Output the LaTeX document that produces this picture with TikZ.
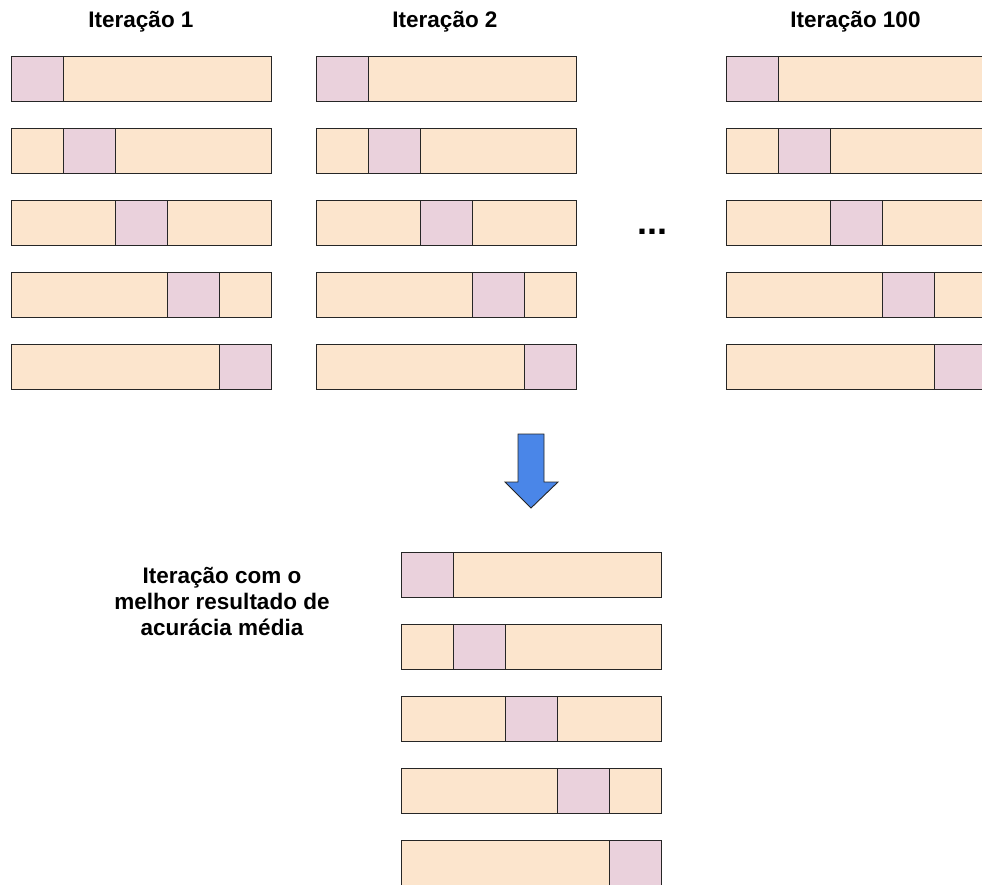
\documentclass[tikz,border=0pt]{standalone}
\usepackage{fontspec}
\setmainfont{Liberation Sans}
\usetikzlibrary{positioning}
\definecolor{trainbg}{HTML}{FCE5CD}
\definecolor{testbg}{HTML}{EAD1DC}
\definecolor{arrowblue}{HTML}{4A86E8}
\tikzset{%
	bar/.style   = {draw=black!85, line width=1.1pt, fill=trainbg, rectangle, anchor=north west, minimum width=260pt, minimum height=45pt, inner sep=0pt}, % Whole data
	fold/.style  = {draw=black!85, line width=1.1pt, fill=testbg, rectangle, anchor=north west, minimum width=52pt, minimum height=45pt, inner sep=0pt}, % Test fold
	title/.style = {font=\fontsize{22.5}{26}\selectfont\bfseries, inner sep=0pt}, % Labels
}

\begin{document}
\begin{tikzpicture}[x=1pt,y=-1pt]
	\useasboundingbox (0,0) rectangle (982,884);
	\clip (0,0) rectangle (982,884);
	\node [title, anchor=base] (it1) at (141,27) {Iteração 1};
	\node [title, anchor=base] (it2) at (445,27) {Iteração 2};
	\node [title, anchor=base] (it100) at (855.5,27) {Iteração 100};
	\node [font=\fontsize{36}{36}\selectfont\bfseries] (dots) at (652,232) {...};
	\node [title, align=center] (bestlabel) at (222,601) {Iteração com o\\melhor resultado de\\acurácia média};
	
	% column / first row
	\foreach \name/\x/\y in {ia/11/56, ib/316/56, ic/726/56, best/401/552} {
		\foreach \k in {0,...,4} {
			\node [bar] (\name-\k) at (\x,\y+\k*72) {};
			\node [fold] (\name-f\k) at ([xshift=\k*52pt]\name-\k.north west) {};
		}
	}
	
	\draw [fill=arrowblue, draw=black!85, line width=0.9pt] (518,434) -- (544,434) -- (544,482) -- (558,482) -- (531,508) -- (505,482) -- (518,482) -- cycle;
\end{tikzpicture}
\end{document}
